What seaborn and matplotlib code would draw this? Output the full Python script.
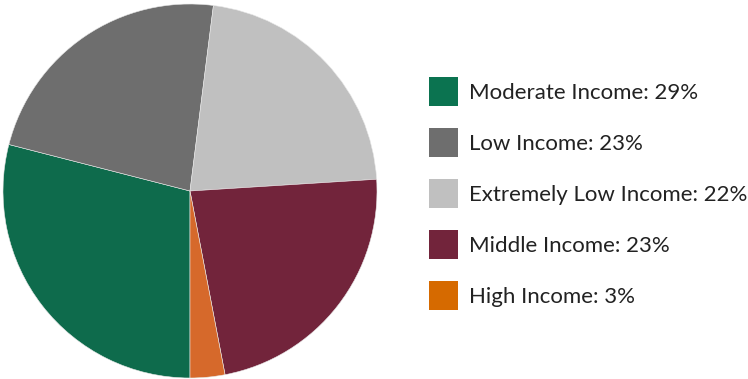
import matplotlib
matplotlib.use("Agg")
import matplotlib.pyplot as plt
import seaborn as sns
from matplotlib.patches import Patch

categories = ["Moderate Income", "Low Income", "Extremely Low Income", "Middle Income", "High Income"]
shares = [29, 23, 22, 23, 3]
slice_colors = ["#0e6b4c", "#6e6e6e", "#c0c0c0", "#72243b", "#d6692b"]
legend_colors = ["#0b7350", "#6e6e6e", "#c0c0c0", "#72243b", "#d66a00"]

sns.set_theme(style="white")
plt.rcParams["font.family"] = ["Lato", "DejaVu Sans"]

W, H = 748, 379
fig = plt.figure(figsize=(W / 100, H / 100), dpi=100)
cx, cy, r = 190, 191, 187
ax = fig.add_axes([(cx - r) / W, (H - cy - r) / H, 2 * r / W, 2 * r / H])
ax.pie(shares, colors=slice_colors, startangle=-90, counterclock=False,
       wedgeprops=dict(edgecolor="#e8e8e8", linewidth=0.4))
ax.set_aspect("equal")
ax.set_xlim(-1, 1)
ax.set_ylim(-1, 1)

handles = [Patch(facecolor=c, edgecolor="none") for c in legend_colors]
labels = [f"{c}: {v}%" for c, v in zip(categories, shares)]
fig.legend(handles, labels, loc="upper left", bbox_to_anchor=(429 / W, 1 - 77 / H),
           frameon=False, fontsize=16, handlelength=1.31, handleheight=1.63,
           handletextpad=0.5, labelspacing=0.99, borderpad=0, borderaxespad=0,
           labelcolor="#222222")

fig.savefig("out.png", dpi=100)
